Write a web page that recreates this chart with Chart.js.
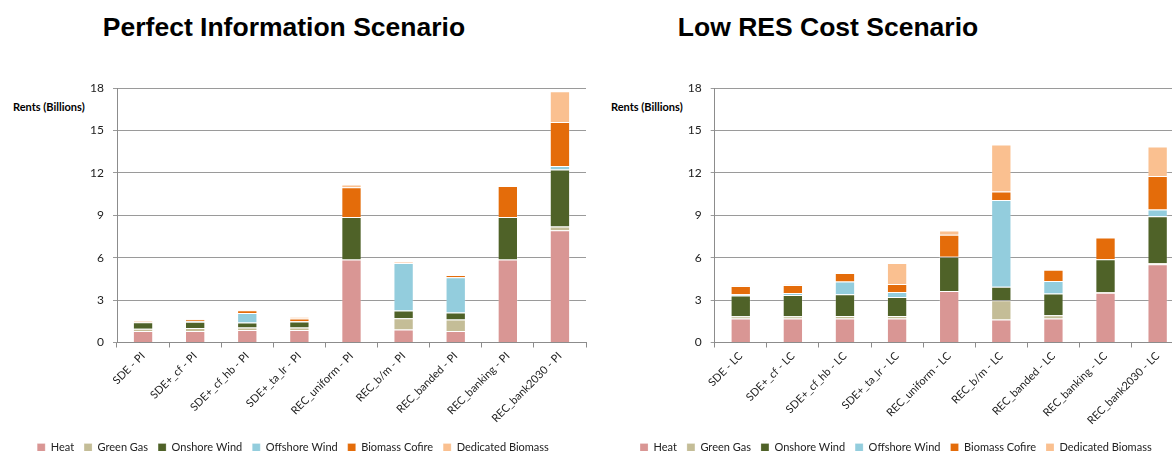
<!DOCTYPE html>
<html>
<head>
<meta charset="utf-8">
<script src="https://cdn.jsdelivr.net/npm/chart.js@4.4.1/dist/chart.umd.min.js"></script>
<style>
html,body{margin:0;padding:0;width:1172px;height:451px;overflow:hidden;background:#fff;position:relative;font-family:Lato,"Open Sans",sans-serif}
.title{position:absolute;top:14px;width:500px;text-align:center;font:bold 26.5px "Liberation Sans",Arial,sans-serif;line-height:27px;color:#000;white-space:nowrap}
.ylab{position:absolute;top:100px;font:bold 11px Lato,sans-serif;line-height:13px;color:#000;white-space:nowrap}
canvas{position:absolute;top:72px}
</style>
</head>
<body>
<div class="title" style="left:34px">Perfect Information Scenario</div>
<div class="title" style="left:578px">Low RES Cost Scenario</div>
<div class="ylab" style="left:13px">Rents (Billions)</div>
<div class="ylab" style="left:611px">Rents (Billions)</div>
<canvas id="pi" width="600" height="391" style="left:0px"></canvas>
<canvas id="lc" width="600" height="391" style="left:590px"></canvas>
<script>
// ---- data ----
const seriesNames = ['Heat','Green Gas','Onshore Wind','Offshore Wind','Biomass Cofire','Dedicated Biomass'];
const seriesColors = ['#d99694','#c4bd97','#4f6228','#93cddd','#e46c0a','#fac090'];
const yTicks = [0,3,6,9,12,15,18];

const categoriesPI = ['SDE - PI','SDE+_cf - PI','SDE+_cf_hb - PI','SDE+_ta_lr - PI','REC_uniform - PI','REC_b/m - PI','REC_banded - PI','REC_banking - PI','REC_bank2030 - PI'];
const heatPI      = [0.82,0.82,0.89,0.89,5.88,0.92,0.82,5.88,7.95];
const greenGasPI  = [0.15,0.20,0.17,0.17,0.00,0.80,0.80,0.00,0.26];
const onshorePI   = [0.47,0.45,0.35,0.42,3.01,0.54,0.50,3.01,4.03];
const offshorePI  = [0.00,0.03,0.68,0.02,0.00,3.36,2.49,0.00,0.25];
const cofirePI    = [0.06,0.15,0.19,0.19,2.10,0.05,0.17,2.19,3.11];
const dedicatedPI = [0.00,0.02,0.03,0.12,0.19,0.07,0.00,0.00,2.19];

const categoriesLC = ['SDE - LC','SDE+_cf - LC','SDE+_cf_hb - LC','SDE+_ta_lr - LC','REC_uniform - LC','REC_b/m - LC','REC_banded - LC','REC_banking - LC','REC_bank2030 - LC'];
const heatLC      = [1.69,1.69,1.69,1.69,3.65,1.62,1.69,3.53,5.53];
const greenGasLC  = [0.17,0.17,0.19,0.19,0.00,1.37,0.24,0.03,0.09];
const onshoreLC   = [1.46,1.50,1.53,1.34,2.42,0.96,1.53,2.33,3.32];
const offshoreLC  = [0.09,0.14,0.90,0.36,0.00,6.14,0.89,0.00,0.47];
const cofireLC    = [0.59,0.57,0.61,0.56,1.55,0.59,0.80,1.55,2.38];
const dedicatedLC = [0.02,0.03,0.00,1.48,0.31,3.34,0.00,0.00,2.09];

function makeChart(id, cats, values, yWidth, padLeft, padRight) {
  const datasets = values.map((v, i) => ({
    label: seriesNames[i],
    data: v,
    backgroundColor: seriesColors[i],
    borderColor: 'rgba(255,255,255,0.22)',
    borderWidth: 1,
    barPercentage: 0.39,
    categoryPercentage: 1.0
  }));
  return new Chart(document.getElementById(id), {
    type: 'bar',
    data: { labels: cats, datasets },
    options: {
      responsive: false,
      animation: false,
      devicePixelRatio: 1,
      layout: { padding: { top: 9, left: padLeft, right: padRight, bottom: 0 } },
      plugins: {
        legend: {
          position: 'bottom',
          labels: {
            boxWidth: 8, boxHeight: 8, padding: 10,
            color: '#222',
            font: { family: 'Lato', size: 11 }
          }
        },
        tooltip: { enabled: false }
      },
      scales: {
        x: {
          stacked: true,
          grid: { offset: true, drawOnChartArea: false, tickLength: 5, color: '#8c8c8c' },
          border: { color: '#8c8c8c' },
          ticks: { autoSkip: false, maxRotation: 45, minRotation: 45, color: '#222', font: { family: 'Lato', size: 11 }, padding: 2 },
          afterFit: s => { s.height = 89.5; }
        },
        y: {
          stacked: true,
          min: 0, max: 18,
          afterBuildTicks: s => { s.ticks = yTicks.map(v => ({ value: v })); },
          grid: { color: '#9a9a9a', tickLength: 4 },
          border: { color: '#8c8c8c' },
          ticks: { color: '#222', font: { family: 'Lato', size: 12 }, padding: 9 },
          afterFit: s => { s.width = yWidth; }
        }
      }
    }
  });
}

makeChart('pi', categoriesPI, [heatPI, greenGasPI, onshorePI, offshorePI, cofirePI, dedicatedPI], 117, 0, 14);
makeChart('lc', categoriesLC, [heatLC, greenGasLC, onshoreLC, offshoreLC, cofireLC, dedicatedLC], 106.7, 18, 6.3);
</script>
</body>
</html>
